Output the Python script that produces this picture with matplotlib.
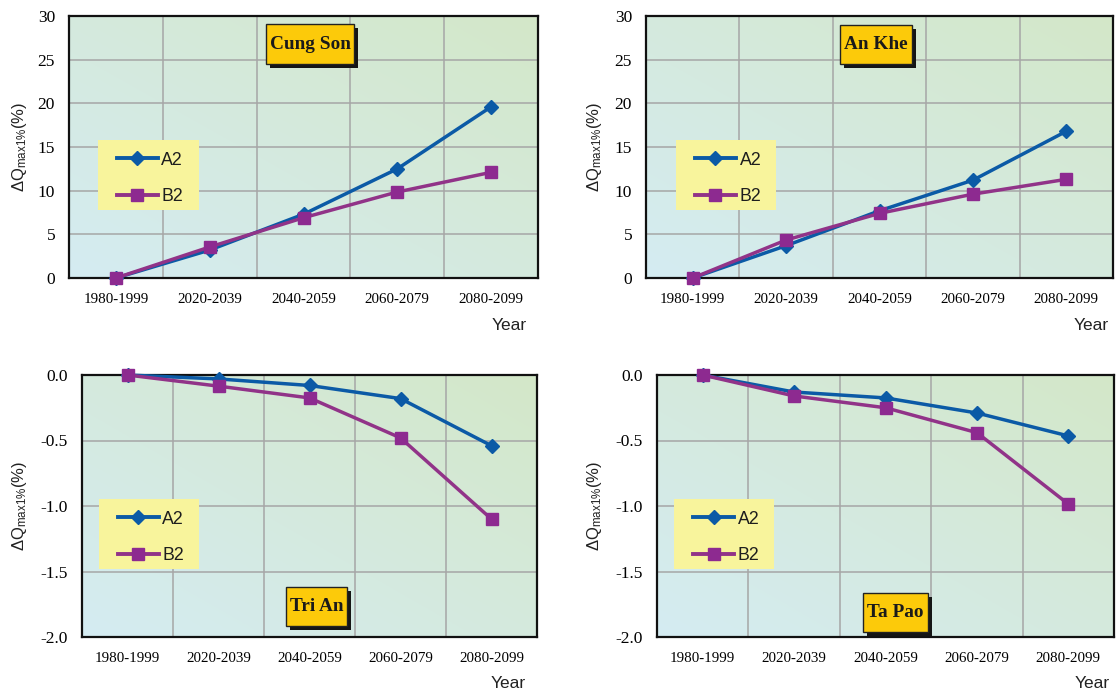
import numpy as np
import matplotlib as mpl
mpl.use("Agg")
import matplotlib.pyplot as plt
from matplotlib.lines import Line2D
from matplotlib.patches import Rectangle
from matplotlib.ticker import FixedLocator, FuncFormatter
from matplotlib.transforms import offset_copy

mpl.rcParams.update({
    "font.family": "Liberation Serif",
    "mathtext.fontset": "custom",
    "mathtext.rm": "Liberation Sans",
    "mathtext.it": "Liberation Sans:italic",
    "mathtext.bf": "Liberation Sans:bold",
})

# Peak discharge change (%) per period and scenario
periods = ["1980-1999", "2020-2039", "2040-2059", "2060-2079", "2080-2099"]
cung_son_a2 = [0, 3.2, 7.3, 12.5, 19.6]
cung_son_b2 = [0, 3.55, 6.9, 9.85, 12.1]
an_khe_a2 = [0, 3.7, 7.7, 11.2, 16.8]
an_khe_b2 = [0, 4.35, 7.4, 9.6, 11.3]
tri_an_a2 = [0, -0.03, -0.08, -0.18, -0.54]
tri_an_b2 = [0, -0.085, -0.175, -0.48, -1.10]
ta_pao_a2 = [0, -0.13, -0.175, -0.29, -0.465]
ta_pao_b2 = [0, -0.16, -0.25, -0.44, -0.985]

W, H = 1117, 696
fig = plt.figure(figsize=(W / 100, H / 100), dpi=100)

BLUE = "#0b5aa6"
PURPLE_LINE = "#913388"
PURPLE = "#8d2a90"
LEGEND_BG = "#f8f49c"
TAG_BG = "#fcca0a"
GRID = "#a6a6a6"

# background gradient: light cyan bottom-left -> light green top-right
c0 = np.array([0.835, 0.925, 0.950])
c1 = np.array([0.830, 0.908, 0.785])
gx, gy = np.meshgrid(np.linspace(0, 1, 200), np.linspace(0, 1, 200))
t = ((gx + gy) / 2)[..., None]
grad = c0 * (1 - t) + c1 * t

# (name, a2, b2, axes box px [l, t, r, b], ylim, yticks, tag box [x0, y0, x1, y1],
#  legend rect [x0, y0, x1, y1], legend anchor, ylabel x px, "Year" pos px)
PANELS = [
    ("Cung Son", cung_son_a2, cung_son_b2, (69, 16, 538, 278), (0, 30), np.arange(0, 31, 5),
     (0.420, 0.817, 0.608, 0.969), (0.062, 0.260, 0.277, 0.527), (0.102, 0.482), 20, (527, 325)),
    ("An Khe", an_khe_a2, an_khe_b2, (646, 16, 1113, 278), (0, 30), np.arange(0, 31, 5),
     (0.415, 0.817, 0.570, 0.966), (0.064, 0.260, 0.278, 0.527), (0.105, 0.482), 595, (1109, 325)),
    ("Tri An", tri_an_a2, tri_an_b2, (82, 375, 537, 637), (-2.0, 0), np.arange(-2.0, 0.01, 0.5),
     (0.448, 0.042, 0.582, 0.191), (0.037, 0.260, 0.257, 0.527), (0.079, 0.482), 20, (526, 684)),
    ("Ta Pao", ta_pao_a2, ta_pao_b2, (657, 375, 1114, 637), (-2.0, 0), np.arange(-2.0, 0.01, 0.5),
     (0.451, 0.019, 0.593, 0.168), (0.037, 0.260, 0.256, 0.527), (0.079, 0.482), 594, (1110, 684)),
]

x = np.arange(len(periods))

for name, a2, b2, box, ylim, yticks, tag, leg, anchor, ylab_x, year_pos in PANELS:
    l, tp, r, b = box
    ax = fig.add_axes([l / W, 1 - b / H, (r - l) / W, (b - tp) / H])
    ax.imshow(grad, extent=(0, 1, 0, 1), transform=ax.transAxes, origin="lower",
              aspect="auto", zorder=0)

    ax.set_xlim(-0.5, len(periods) - 0.5)
    ax.set_ylim(*ylim)
    ax.set_xticks(x)
    ax.set_xticklabels(periods, fontsize=10.8)
    ax.xaxis.set_minor_locator(FixedLocator(x[:-1] + 0.5))
    ax.set_yticks(yticks)
    if ylim[1] == 0:
        ax.yaxis.set_major_formatter(FuncFormatter(lambda v, p: f"{v:.1f}"))
    else:
        ax.yaxis.set_major_formatter(FuncFormatter(lambda v, p: f"{v:.0f}"))
    ax.tick_params(axis="y", which="both", length=0, pad=10, labelsize=12.5)
    ax.tick_params(axis="x", which="both", length=0, pad=11)

    ax.set_axisbelow(True)
    ax.grid(True, axis="y", which="major", color=GRID, linewidth=1.1)
    ax.grid(True, axis="x", which="minor", color=GRID, linewidth=1.1)
    for sp in ax.spines.values():
        sp.set_linewidth(1.6)
        sp.set_color("#111111")

    ax.plot(x, a2, color=BLUE, lw=2.5, marker="D", ms=7, mfc=BLUE, mec=BLUE,
            zorder=3, clip_on=False)
    ax.plot(x, b2, color=PURPLE_LINE, lw=2.5, marker="s", ms=8.5, mfc=PURPLE, mec=PURPLE,
            zorder=3.1, clip_on=False)

    # legend on a pale yellow panel
    ax.add_patch(Rectangle((leg[0], leg[1]), leg[2] - leg[0], leg[3] - leg[1],
                           transform=ax.transAxes, facecolor=LEGEND_BG, edgecolor="none",
                           zorder=4))
    handles = [
        Line2D([], [], color=BLUE, lw=2.8, marker="D", ms=7.5, mfc=BLUE, mec=BLUE),
        Line2D([], [], color=PURPLE_LINE, lw=2.8, marker="s", ms=8.5, mfc=PURPLE, mec=PURPLE),
    ]
    lg = ax.legend(handles, ["A2", "B2"], loc="upper left", bbox_to_anchor=anchor,
                   frameon=False, borderpad=0, borderaxespad=0, handlelength=2.3,
                   handletextpad=0.2, labelspacing=1.1,
                   prop={"family": "Liberation Sans", "size": 12.8})
    lg.set_zorder(5)
    for txt in lg.get_texts():
        txt.set_color("#1e1e1e")

    # station tag with drop shadow
    shadow_tr = offset_copy(ax.transAxes, fig=fig, x=4, y=-4, units="dots")
    ax.add_patch(Rectangle((tag[0], tag[1]), tag[2] - tag[0], tag[3] - tag[1],
                           transform=shadow_tr, facecolor="#151515", edgecolor="none",
                           zorder=6, clip_on=False))
    ax.add_patch(Rectangle((tag[0], tag[1]), tag[2] - tag[0], tag[3] - tag[1],
                           transform=ax.transAxes, facecolor=TAG_BG, edgecolor="#222222",
                           lw=1.0, zorder=7, clip_on=False))
    ax.text((tag[0] + tag[2]) / 2, (tag[1] + tag[3]) / 2, name, transform=ax.transAxes,
            ha="center", va="center", fontsize=13.9, fontweight="bold",
            color="#1a1a1a", zorder=8)

    fig.text(ylab_x / W, 1 - ((tp + b) / 2) / H, "ΔQ$_{\\rm max1\\%}$(%)",
             rotation=90, ha="center", va="center", fontsize=12,
             family="Liberation Sans", color="#222222")
    fig.text(year_pos[0] / W, 1 - year_pos[1] / H, "Year", ha="right", va="center",
             fontsize=12.5, family="Liberation Sans", color="#222222")

fig.savefig("out.png", dpi=100)
